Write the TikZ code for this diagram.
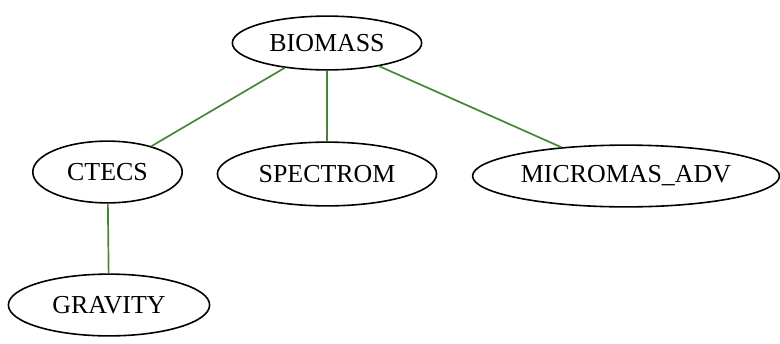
\documentclass[tikz,border=0pt]{standalone}
\usepackage{fontspec}
\setmainfont{Liberation Serif}
\usetikzlibrary{shapes.geometric}
\definecolor{edgegreen}{RGB}{70,135,55}

\begin{document}
\begin{tikzpicture}[x=1bp,y=-1bp,
  mod/.style={ellipse,draw,line width=1.6pt,inner sep=0pt,font=\fontsize{26}{30}\selectfont},
  link/.style={draw=edgegreen,line width=1.7pt}]
\useasboundingbox (0,0) rectangle (780,343);
\node[mod,minimum width=190,minimum height=54] (biomass) at (327,43) {BIOMASS};
\node[mod,minimum width=150,minimum height=62] (ctecs) at (107.5,172) {CTECS};
\node[mod,minimum width=220,minimum height=64] (spectrom) at (327,174) {SPECTROM};
\node[mod,minimum width=308,minimum height=62] (micromas) at (626,176) {MICROMAS\_ADV};
\node[mod,minimum width=202,minimum height=62] (gravity) at (109,305) {GRAVITY};
\draw[link] (biomass)--(ctecs);
\draw[link] (biomass)--(spectrom);
\draw[link] (biomass)--(micromas);
\draw[link] (ctecs)--(gravity);
\end{tikzpicture}
\end{document}
